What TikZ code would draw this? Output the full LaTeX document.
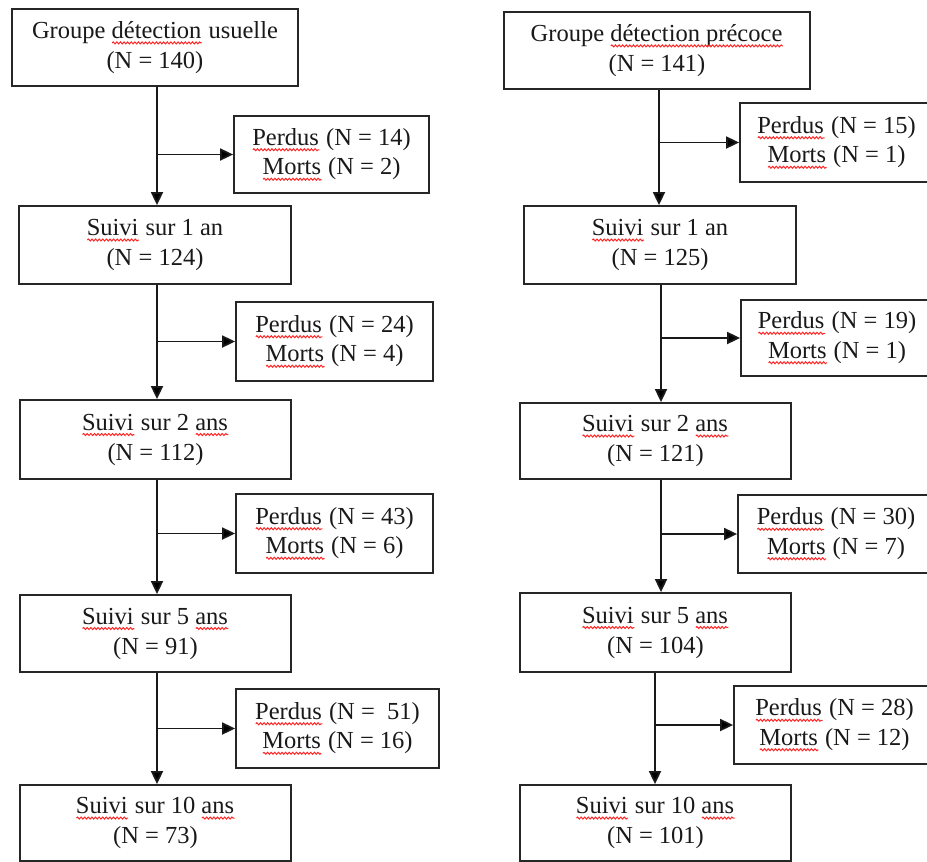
\documentclass[tikz,border=0pt]{standalone}
\usepackage{fontspec}
\setmainfont{Liberation Serif}
\usetikzlibrary{arrows.meta,decorations.pathmorphing}
\newlength\wvlen
\tikzset{
  mainbox/.style={draw=black!85, line width=1.8pt, inner sep=0pt, align=center,
    font=\fontsize{24.5}{30}\selectfont, text=black!90},
  sidebox/.style={mainbox, font=\fontsize{24.5}{29.5}\selectfont},
  arr/.style={line width=1.8pt, draw=black!90, -{Triangle[length=13pt,width=12pt]}},
  wavy/.style={draw=red!85, line width=1pt, decorate,
    decoration={snake, amplitude=1pt, segment length=3.6pt}}
}
\newcommand\wv[1]{\settowidth\wvlen{#1}\rlap{#1}\tikz[baseline=4.5pt]\draw[wavy] (0pt,0pt) -- (\wvlen,0pt);}
\begin{document}
\begin{tikzpicture}[x=1pt,y=-1pt]
\useasboundingbox (0,0) rectangle (927,862);
\clip (0,0) rectangle (927,862);
% left column
\node[mainbox,minimum width=286pt,minimum height=77pt] (L1) at (155,47.5) {Groupe \wv{détection} usuelle\\(N = 140)};
\node[mainbox,minimum width=272pt,minimum height=78pt] (L2) at (155,245) {\wv{Suivi} sur 1 an\\(N = 124)};
\node[mainbox,minimum width=271pt,minimum height=79pt] (L3) at (155.5,439.5) {\wv{Suivi} sur 2 \wv{ans}\\(N = 112)};
\node[mainbox,minimum width=271pt,minimum height=77pt] (L4) at (155.5,633.5) {\wv{Suivi} sur 5 \wv{ans}\\(N = 91)};
\node[mainbox,minimum width=271pt,minimum height=76pt] (L5) at (155.5,823) {\wv{Suivi} sur 10 \wv{ans}\\(N = 73)};
\node[sidebox,minimum width=195pt,minimum height=77pt] (SL1) at (331.5,154.5) {\wv{Perdus} (N = 14)\\\wv{Morts} (N = 2)};
\node[sidebox,minimum width=197pt,minimum height=79pt] (SL2) at (334.5,341.5) {\wv{Perdus} (N = 24)\\\wv{Morts} (N = 4)};
\node[sidebox,minimum width=197pt,minimum height=79pt] (SL3) at (334.5,533.5) {\wv{Perdus} (N = 43)\\\wv{Morts} (N = 6)};
\node[sidebox,minimum width=203pt,minimum height=79pt] (SL4) at (337.5,728.5) {\wv{Perdus} (N =\ \ 51)\\\wv{Morts} (N = 16)};
% right column
\node[mainbox,minimum width=306pt,minimum height=77pt] (R1) at (657,50.5) {Groupe \wv{détection précoce}\\(N = 141)};
\node[mainbox,minimum width=272pt,minimum height=78pt] (R2) at (660,245) {\wv{Suivi} sur 1 an\\(N = 125)};
\node[mainbox,minimum width=271pt,minimum height=76pt] (R3) at (655.5,441) {\wv{Suivi} sur 2 \wv{ans}\\(N = 121)};
\node[mainbox,minimum width=271pt,minimum height=79pt] (R4) at (655.5,632.5) {\wv{Suivi} sur 5 \wv{ans}\\(N = 104)};
\node[mainbox,minimum width=271pt,minimum height=76pt] (R5) at (655.5,823) {\wv{Suivi} sur 10 \wv{ans}\\(N = 101)};
\node[sidebox,minimum width=193pt,minimum height=79pt] (SR1) at (836.5,142.5) {\wv{Perdus} (N = 15)\\\wv{Morts} (N = 1)};
\node[sidebox,minimum width=192pt,minimum height=76pt] (SR2) at (837,338) {\wv{Perdus} (N = 19)\\\wv{Morts} (N = 1)};
\node[sidebox,minimum width=196pt,minimum height=78pt] (SR3) at (836,534) {\wv{Perdus} (N = 30)\\\wv{Morts} (N = 7)};
\node[sidebox,minimum width=201pt,minimum height=78pt] (SR4) at (834.5,725) {\wv{Perdus} (N = 28)\\\wv{Morts} (N = 12)};
% line positions
\coordinate (vL) at (157,0);
\coordinate (vR1) at (659,0);
\coordinate (vR2) at (661,0);
\coordinate (vR3) at (661,0);
\coordinate (vR4) at (655,0);
% left connectors
\draw[arr] (L1.south -| vL) -- (L2.north -| vL);
\draw[arr] (L2.south -| vL) -- (L3.north -| vL);
\draw[arr] (L3.south -| vL) -- (L4.north -| vL);
\draw[arr] (L4.south -| vL) -- (L5.north -| vL);
\draw[arr] (vL |- SL1.west) -- (SL1.west);
\draw[arr] (vL |- SL2.west) -- (SL2.west);
\draw[arr] (vL |- SL3.west) -- (SL3.west);
\draw[arr] (vL |- SL4.west) -- (SL4.west);
% right connectors
\draw[arr] (R1.south -| vR1) -- (R2.north -| vR1);
\draw[arr] (R2.south -| vR2) -- (R3.north -| vR2);
\draw[arr] (R3.south -| vR3) -- (R4.north -| vR3);
\draw[arr] (R4.south -| vR4) -- (R5.north -| vR4);
\draw[arr] (vR1 |- SR1.west) -- (SR1.west);
\draw[arr] (vR2 |- SR2.west) -- (SR2.west);
\draw[arr] (vR3 |- SR3.west) -- (SR3.west);
\draw[arr] (vR4 |- SR4.west) -- (SR4.west);
\end{tikzpicture}
\end{document}
